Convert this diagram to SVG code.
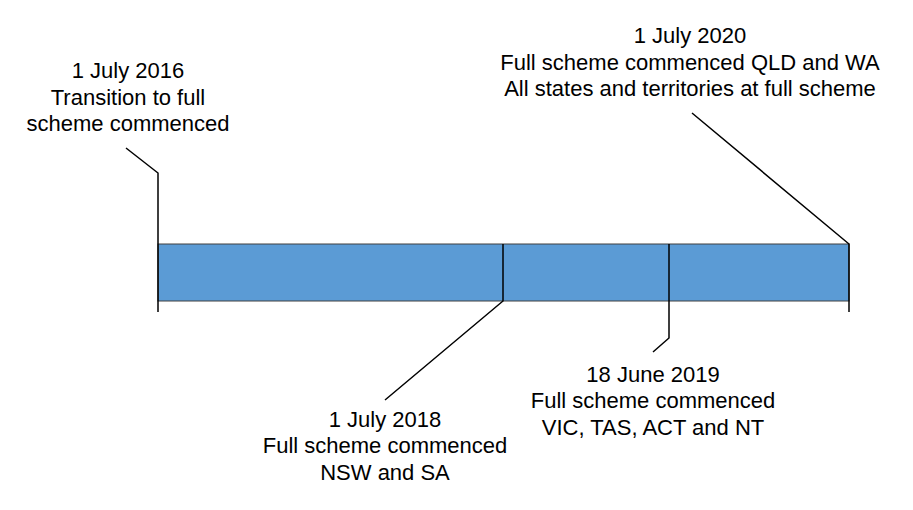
<svg xmlns="http://www.w3.org/2000/svg" width="913" height="510" viewBox="0 0 913 510">
<style>
.lbl{font-family:"Liberation Sans",Arial,sans-serif;font-size:22px;fill:#000;text-anchor:middle}
.ln{stroke:#000;stroke-width:1.5;fill:none}
</style>
<rect width="913" height="510" fill="#fff"/>
<g id="bar">
<rect x="158" y="244" width="691" height="57" fill="#5B9BD5" stroke="#404040" stroke-width="1"/>
</g>
<g id="connectors">
<polyline class="ln" points="126,148 158,173 158,312"/>
<polyline class="ln" points="503,244 503,301 385,400"/>
<polyline class="ln" points="669,244 669,338 653,352"/>
<polyline class="ln" points="692,113 849,244 849,312"/>
</g>
<g id="n2016">
<text class="lbl" x="128" y="78">1 July 2016</text>
<text class="lbl" x="128" y="105">Transition to full</text>
<text class="lbl" x="128" y="131">scheme commenced</text>
</g>
<g id="n2020">
<text class="lbl" x="690" y="43">1 July 2020</text>
<text class="lbl" x="690" y="70">Full scheme commenced QLD and WA</text>
<text class="lbl" x="690" y="96">All states and territories at full scheme</text>
</g>
<g id="n2018">
<text class="lbl" x="385" y="427">1 July 2018</text>
<text class="lbl" x="385" y="453">Full scheme commenced</text>
<text class="lbl" x="385" y="480">NSW and SA</text>
</g>
<g id="n2019">
<text class="lbl" x="653" y="382">18 June 2019</text>
<text class="lbl" x="653" y="408">Full scheme commenced</text>
<text class="lbl" x="653" y="435">VIC, TAS, ACT and NT</text>
</g>
</svg>
